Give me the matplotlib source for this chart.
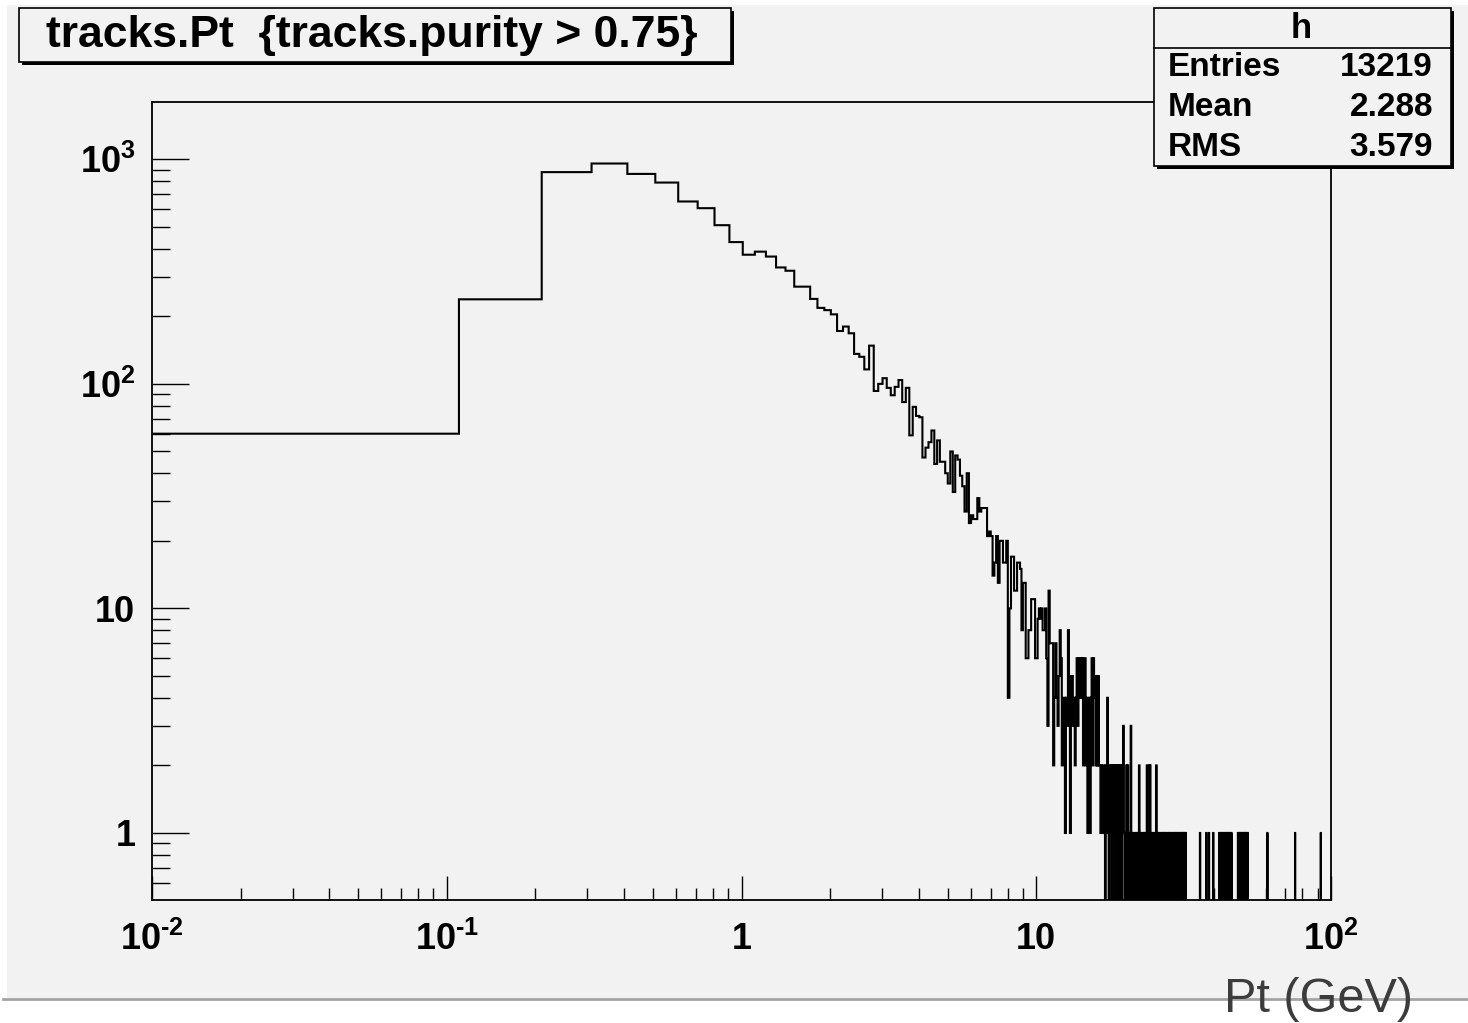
import numpy as np
import matplotlib
matplotlib.use('Agg')
import matplotlib.pyplot as plt
from matplotlib.patches import Rectangle
from matplotlib.lines import Line2D
from matplotlib.ticker import FixedLocator, LogLocator, NullFormatter, FixedFormatter

plt.rcParams['font.family'] = ['Liberation Sans', 'DejaVu Sans']
plt.rcParams['font.weight'] = 'bold'
plt.rcParams['axes.unicode_minus'] = False
plt.rcParams['mathtext.fontset'] = 'custom'
plt.rcParams['mathtext.rm'] = 'Liberation Sans:bold'
plt.rcParams['mathtext.it'] = 'Liberation Sans:bold'
plt.rcParams['mathtext.bf'] = 'Liberation Sans:bold'
plt.rcParams['mathtext.sf'] = 'Liberation Sans:bold'

# ---------------- data ----------------
x_lo, x_hi, n_bins = 0.01, 100.0, 1000

counts_0_99 = [
    60, 238, 877, 958, 861, 788, 649, 606, 509, 428,
    376, 388, 369, 330, 319, 271, 271, 239, 218, 213,
    204, 172, 180, 168, 136, 132, 116, 148, 93, 100,
    106, 96, 89, 97, 104, 83, 96, 59, 79, 72,
    71, 47, 52, 55, 62, 44, 56, 45, 45, 40,
    36, 50, 33, 48, 46, 39, 35, 27, 40, 24,
    26, 25, 25, 31, 27, 28, 28, 28, 21, 22,
    21, 14, 16, 21, 13, 20, 20, 16, 16, 20,
    4, 10, 17, 17, 12, 12, 16, 16, 15, 8,
    13, 13, 6, 6, 8, 8, 11, 11, 11, 6,
]
counts_100_199 = [
    6, 9, 10, 9, 10, 8, 8, 10, 6, 3,
    12, 7, 7, 7, 2, 4, 7, 4, 3, 5,
    8, 6, 2, 3, 4, 1, 4, 3, 8, 4,
    1, 5, 5, 3, 4, 2, 4, 6, 3, 6,
    4, 6, 4, 6, 2, 4, 6, 2, 4, 1,
    2, 4, 1, 4, 6, 2, 6, 4, 5, 2,
    5, 2, 5, 2, 2, 1, 2, 1, 2, 2,
    1, 0, 2, 1, 4, 1, 0, 2, 1, 2,
    0, 2, 1, 2, 0, 2, 1, 0, 2, 1,
    2, 0, 1, 2, 0, 2, 1, 3, 1, 0,
]
counts_200_329 = [
    1, 0, 2, 1, 2, 0, 1, 0, 1, 3,
    0, 1, 0, 1, 1, 0, 1, 0, 1, 0,
    1, 1, 0, 2, 1, 0, 1, 0, 1, 1,
    0, 1, 0, 1, 0, 1, 0, 2, 1, 0,
    1, 2, 0, 2, 0, 1, 0, 1, 1, 0,
    1, 0, 0, 1, 0, 2, 0, 1, 0, 1,
    0, 0, 1, 0, 1, 1, 0, 1, 0, 0,
    1, 0, 1, 0, 1, 0, 0, 1, 1, 0,
    1, 0, 1, 0, 0, 1, 0, 1, 0, 1,
    1, 0, 0, 1, 0, 1, 0, 1, 0, 0,
    1, 0, 1, 0, 1, 1, 0, 1, 0, 0,
    1, 0, 1, 0, 1, 0, 1, 0, 0, 1,
    0, 1, 0, 0, 0, 0, 0, 0, 0, 0,
]
# bins (index) in the far tail holding a single entry
tail_single_bins = [359, 377, 385, 398,
                    417, 421, 424, 428, 431, 435, 438, 442, 445, 449, 452, 456, 459,
                    483, 486, 490, 493, 497, 500, 504, 507, 511, 514, 518, 521,
                    608, 755, 923]

y_ticks = [1, 10, 100, 1000]
y_tick_labels = ['1', '10', r'$10^{2}$', r'$10^{3}$']
x_ticks = [0.01, 0.1, 1, 10, 100]
x_tick_labels = [r'$10^{\text{-}2}$', r'$10^{\text{-}1}$', '1', '10', r'$10^{2}$']

title_text = 'tracks.Pt  {tracks.purity > 0.75}'
stats_name = 'h'
stats_rows = [('Entries', '13219'), ('Mean', '2.288'), ('RMS', '3.579')]
x_title = 'Pt (GeV)'

# ---------------- assemble histogram ----------------
counts = np.zeros(n_bins)
seq = counts_0_99 + counts_100_199 + counts_200_329
counts[:len(seq)] = seq
for b in tail_single_bins:
    counts[b] += 1
edges = np.linspace(x_lo, x_hi, n_bins + 1)
draw_vals = np.where(counts > 0, counts, 1e-3)

# ---------------- figure ----------------
W, H = 1468, 1023
fig = plt.figure(figsize=(W / 100, H / 100), dpi=100, facecolor='white')

def fx(px):
    return px / W

def fy(py):
    return 1 - py / H

bg = '#f2f2f2'
fig.patches.append(Rectangle((fx(7), fy(998)), (W - 7) / W, (998 - 5) / H,
                             transform=fig.transFigure, facecolor=bg,
                             edgecolor='none', zorder=-5))
fig.lines.append(Line2D([fx(3), fx(W)], [fy(999), fy(999)], transform=fig.transFigure,
                        color='#a3a3a3', lw=2.0, zorder=1))

ax = fig.add_axes([fx(152), fy(900), (1331 - 152) / W, (900 - 102) / H])
ax.set_zorder(0)
ax.set_facecolor(bg)
ax.stairs(draw_vals, edges, baseline=None, color='black', lw=1.5)
ax.set_xscale('log')
ax.set_yscale('log')
ax.set_xlim(x_lo, x_hi)
ax.set_ylim(0.503, 1800)

for s in ax.spines.values():
    s.set_linewidth(1.3)
    s.set_color('black')

ax.xaxis.set_major_locator(FixedLocator(x_ticks))
ax.xaxis.set_major_formatter(FixedFormatter(x_tick_labels))
ax.xaxis.set_minor_locator(LogLocator(base=10, subs=np.arange(2, 10), numticks=20))
ax.xaxis.set_minor_formatter(NullFormatter())
ax.yaxis.set_major_locator(FixedLocator(y_ticks))
ax.yaxis.set_major_formatter(FixedFormatter(y_tick_labels))
ax.yaxis.set_minor_locator(LogLocator(base=10, subs=np.arange(2, 10), numticks=20))
ax.yaxis.set_minor_formatter(NullFormatter())

ax.tick_params(axis='x', which='major', direction='in', length=24 * 0.72, width=1.0,
               labelsize=26, pad=16, top=False)
ax.tick_params(axis='x', which='minor', direction='in', length=12 * 0.72, width=1.0, top=False)
ax.tick_params(axis='y', which='major', direction='in', length=37 * 0.72, width=1.0,
               labelsize=26, pad=12, right=False)
ax.tick_params(axis='y', which='minor', direction='in', length=18 * 0.72, width=1.0, right=False)
for lab in ax.get_xticklabels() + ax.get_yticklabels():
    lab.set_fontweight('bold')

# ---------------- title box ----------------
def box(x0, y0, x1, y1, sh=3):
    fig.patches.append(Rectangle((fx(x0 + sh), fy(y1 + sh)), (x1 - x0) / W, (y1 - y0) / H,
                                 transform=fig.transFigure, facecolor='black',
                                 edgecolor='none', zorder=5))
    fig.patches.append(Rectangle((fx(x0), fy(y1)), (x1 - x0) / W, (y1 - y0) / H,
                                 transform=fig.transFigure, facecolor=bg,
                                 edgecolor='black', lw=1.2, zorder=6))

box(19, 8, 731, 62)
fig.text(fx(372), fy(36), title_text, ha='center', va='center', fontsize=32,
         fontweight='bold', zorder=7)

# ---------------- stats box ----------------
box(1154, 8, 1451, 166)
fig.lines.append(Line2D([fx(1154), fx(1451)], [fy(47.5), fy(47.5)], transform=fig.transFigure,
                        color='black', lw=1.2, zorder=7))
fig.text(fx(1301), fy(28), stats_name, ha='center', va='center', fontsize=25,
         fontweight='bold', zorder=7)
for i, (k, v) in enumerate(stats_rows):
    yy = 68 + i * 39.5
    fig.text(fx(1168), fy(yy), k, ha='left', va='center', fontsize=24, fontweight='bold', zorder=7)
    fig.text(fx(1433), fy(yy), v, ha='right', va='center', fontsize=24, fontweight='bold', zorder=7)

# ---------------- x title ----------------
fig.text(fx(1319), fy(1000), x_title, ha='center', va='center', fontsize=35,
         fontweight='normal', color='#3c3c3c', zorder=8)

fig.savefig('out.png', dpi=100, facecolor='white')
